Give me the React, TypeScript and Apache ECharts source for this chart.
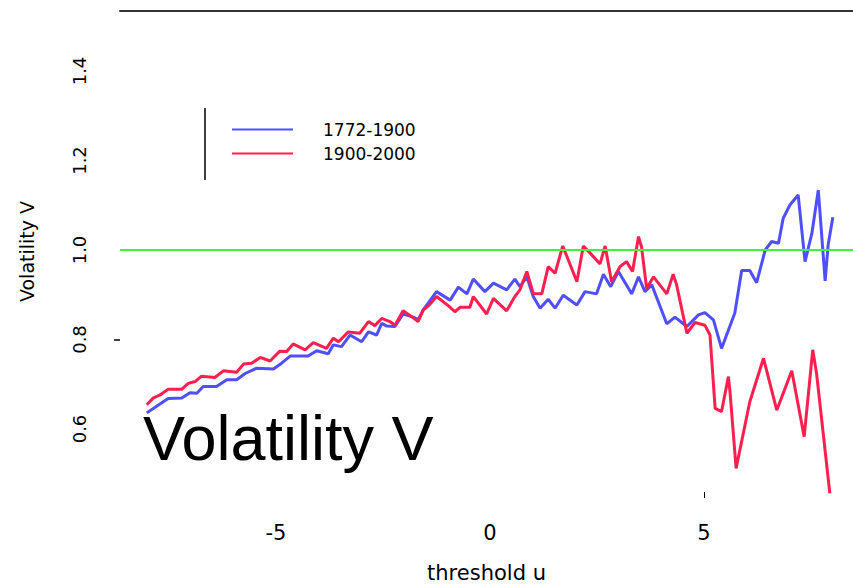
import React, { useEffect, useRef } from "react";
import * as echarts from "echarts";

// threshold u values and volatility V values
const uBlue = [
  -8.02, -7.79, -7.52, -7.2, -7.01, -6.85, -6.7, -6.39, -6.15, -5.92, -5.72, -5.45, -5.06, -4.87,
  -4.67, -4.25, -4.05, -3.78, -3.66, -3.47, -3.27, -3.0, -2.84, -2.65, -2.53, -2.41, -2.22, -2.03,
  -1.79, -1.68, -1.56, -1.25, -0.93, -0.74, -0.54, -0.39, -0.12, 0.08, 0.39, 0.58, 0.7, 0.86, 1.01,
  1.17, 1.36, 1.52, 1.71, 2.03, 2.22, 2.49, 2.65, 2.82, 3.0, 3.31, 3.47, 3.62, 3.78, 4.13, 4.32,
  4.6, 4.87, 5.02, 5.22, 5.41, 5.72, 5.88, 6.07, 6.23, 6.43, 6.58, 6.74, 6.85, 7.01, 7.2, 7.36,
  7.52, 7.67, 7.83, 7.9, 8.01,
];
const vBlue = [
  0.636, 0.651, 0.668, 0.669, 0.681, 0.68, 0.695, 0.695, 0.71, 0.71, 0.724, 0.736, 0.734, 0.747,
  0.763, 0.763, 0.775, 0.768, 0.788, 0.784, 0.81, 0.795, 0.817, 0.81, 0.836, 0.83, 0.829, 0.857,
  0.85, 0.844, 0.866, 0.907, 0.888, 0.917, 0.902, 0.935, 0.907, 0.926, 0.911, 0.935, 0.918, 0.94,
  0.896, 0.87, 0.89, 0.87, 0.899, 0.877, 0.907, 0.902, 0.946, 0.918, 0.952, 0.902, 0.94, 0.907,
  0.922, 0.835, 0.85, 0.829, 0.855, 0.86, 0.844, 0.78, 0.859, 0.954, 0.954, 0.927, 1.0, 1.019,
  1.015, 1.071, 1.101, 1.123, 0.974, 1.037, 1.134, 0.931, 1.011, 1.073,
];
const uRed = [
  -8.02, -7.87, -7.71, -7.52, -7.2, -7.05, -6.89, -6.74, -6.43, -6.23, -5.92, -5.76, -5.57, -5.37,
  -5.14, -4.91, -4.75, -4.6, -4.32, -4.13, -3.82, -3.66, -3.54, -3.31, -3.04, -2.84, -2.69, -2.53,
  -2.34, -2.22, -2.03, -1.83, -1.68, -1.56, -1.44, -1.25, -0.97, -0.82, -0.7, -0.47, -0.39, -0.08,
  0.08, 0.39, 0.58, 0.7, 0.86, 1.01, 1.21, 1.36, 1.52, 1.7, 2.03, 2.18, 2.34, 2.57, 2.69, 2.84,
  3.04, 3.19, 3.33, 3.47, 3.54, 3.66, 3.82, 4.13, 4.28, 4.36, 4.6, 4.79, 5.02, 5.14, 5.26, 5.41,
  5.57, 5.61, 5.75, 6.07, 6.39, 6.7, 7.05, 7.34, 7.54, 7.63, 7.94,
];
const vRed = [
  0.654, 0.669, 0.676, 0.689, 0.689, 0.702, 0.706, 0.718, 0.715, 0.73, 0.727, 0.745, 0.747, 0.76,
  0.752, 0.774, 0.773, 0.79, 0.777, 0.793, 0.78, 0.803, 0.795, 0.817, 0.814, 0.84, 0.831, 0.847,
  0.84, 0.832, 0.864, 0.851, 0.84, 0.866, 0.875, 0.896, 0.875, 0.862, 0.872, 0.872, 0.896, 0.857,
  0.892, 0.864, 0.896, 0.911, 0.952, 0.903, 0.902, 0.963, 0.948, 1.009, 0.929, 1.009, 0.993, 0.969,
  1.009, 0.929, 0.963, 0.974, 0.952, 1.03, 1.007, 0.914, 0.94, 0.902, 0.946, 0.922, 0.814, 0.838,
  0.832, 0.81, 0.646, 0.639, 0.717, 0.68, 0.512, 0.661, 0.758, 0.642, 0.73, 0.583, 0.777, 0.724,
  0.456,
];
const seriesNames = ["1772-1900", "1900-2000"];
const xLabelValues = [-5, 0, 5];
const yLabelValues = [0.6, 0.8, 1.0, 1.2, 1.4];
const xTickValues = [5];
const yTickValues = [0.8];
const referenceLevel = 1.0;
const xRange = [-8.645, 8.481];
const yRange = [0.4592, 1.5341];

export default function App() {
  const ref = useRef<HTMLDivElement>(null);
  useEffect(() => {
    if (!ref.current) return;
    const chart = echarts.init(ref.current, null, { renderer: "svg" });
    const blueData = uBlue.map((u, i) => [u, vBlue[i]]);
    const redData = uRed.map((u, i) => [u, vRed[i]]);
    chart.setOption({
      animation: false,
      backgroundColor: "#ffffff",
      grid: {
        left: 120,
        right: 0,
        top: 11,
        bottom: 92,
        containLabel: false,
        outerBoundsMode: "none",
      },
      legend: {
        data: seriesNames,
        orient: "vertical",
        left: 232,
        top: 119,
        padding: 0,
        itemGap: 3,
        icon: "rect",
        itemWidth: 61,
        itemHeight: 2,
        textStyle: {
          fontFamily: "DejaVu Sans",
          fontSize: 17,
          color: "#000",
          lineHeight: 17,
          padding: [4, 0, 0, 25],
        },
      },
      xAxis: [
        {
          type: "value",
          min: xRange[0],
          max: xRange[1],
          position: "bottom",
          name: "threshold u",
          nameLocation: "middle",
          nameGap: 70,
          nameTextStyle: { fontFamily: "DejaVu Sans", fontSize: 21, color: "#000" },
          axisLine: { show: false, onZero: false },
          splitLine: { show: false },
          axisTick: {
            show: true,
            customValues: xTickValues,
            length: 6,
            lineStyle: { color: "#000", width: 1 },
          },
          axisLabel: {
            customValues: xLabelValues,
            margin: 30,
            fontFamily: "DejaVu Sans",
            fontSize: 21,
            color: "#000",
            formatter: (v: number) => String(v),
          },
        },
        {
          type: "value",
          min: xRange[0],
          max: xRange[1],
          position: "top",
          axisLine: { show: true, onZero: false, lineStyle: { color: "#333", width: 2 } },
          axisTick: { show: false },
          axisLabel: { show: false },
          splitLine: { show: false },
        },
      ],
      yAxis: {
        type: "value",
        min: yRange[0],
        max: yRange[1],
        name: "Volatility V",
        nameLocation: "middle",
        nameRotate: 90,
        nameGap: 84,
        nameTextStyle: { fontFamily: "DejaVu Sans", fontSize: 19, color: "#000" },
        axisLine: { show: false, onZero: false },
        splitLine: { show: false },
        axisTick: {
          show: true,
          customValues: yTickValues,
          length: 6,
          lineStyle: { color: "#000", width: 1.5 },
        },
        axisLabel: {
          customValues: yLabelValues,
          rotate: 90,
          margin: 32,
          fontFamily: "DejaVu Sans",
          fontSize: 18,
          color: "#000",
          formatter: (v: number) => v.toFixed(1),
        },
      },
      graphic: [
        {
          type: "line",
          shape: { x1: 205, y1: 108, x2: 205, y2: 180 },
          style: { stroke: "#000", lineWidth: 1.5 },
        },
        {
          type: "text",
          x: 143,
          y: 438,
          style: {
            text: "Volatility V",
            font: '63px "Liberation Sans"',
            fill: "#000",
            textVerticalAlign: "middle",
            verticalAlign: "middle",
          },
        },
      ],
      series: [
        {
          name: seriesNames[0],
          type: "line",
          data: blueData,
          showSymbol: false,
          clip: false,
          color: "#4f4fff",
          lineStyle: { color: "#4f4fff", width: 3 },
          markLine: {
            silent: true,
            symbol: "none",
            label: { show: false },
            lineStyle: { color: "#44ee44", width: 2, type: "solid" },
            data: [{ yAxis: referenceLevel }],
          },
        },
        {
          name: seriesNames[1],
          type: "line",
          data: redData,
          showSymbol: false,
          clip: false,
          color: "#ff1f4f",
          lineStyle: { color: "#ff1f4f", width: 3 },
        },
      ],
    });
    return () => chart.dispose();
  }, []);
  return (
    <div
      ref={ref}
      style={{ position: "fixed", left: 0, top: 0, width: 853, height: 584, background: "#fff" }}
    />
  );
}
